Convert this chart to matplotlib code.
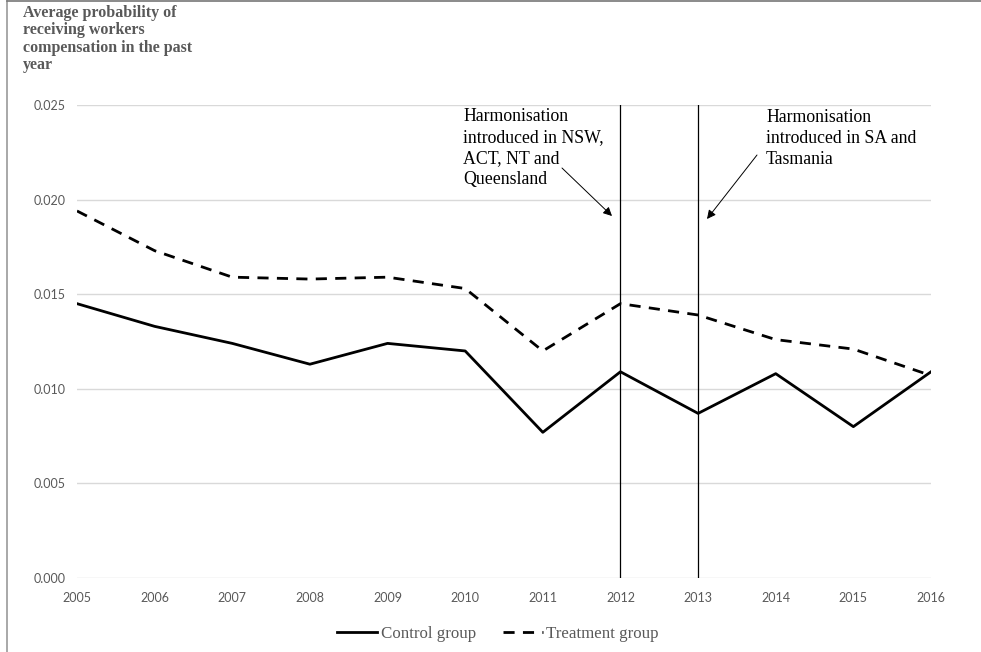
import matplotlib.pyplot as plt
from matplotlib.lines import Line2D

years = [2005, 2006, 2007, 2008, 2009, 2010, 2011, 2012, 2013, 2014, 2015, 2016]
control = [0.0145, 0.0133, 0.0124, 0.0113, 0.0124, 0.0120, 0.0077, 0.0109, 0.0087, 0.0108, 0.0080, 0.0109]
treatment = [0.0194, 0.0173, 0.0159, 0.0158, 0.0159, 0.0153, 0.0120, 0.0145, 0.0139, 0.0126, 0.0121, 0.0107]
yticks = [0.000, 0.005, 0.010, 0.015, 0.020, 0.025]
events = [2012, 2013]

W, H = 981, 652
fig = plt.figure(figsize=(W / 100, H / 100), dpi=100)
ax = fig.add_axes([77 / W, 1 - 578 / H, (931 - 77) / W, (578 - 105) / H])

grey_txt = "#595959"
ax.set_xlim(2005, 2016)
ax.set_ylim(0, 0.025)
ax.set_yticks(yticks)
ax.set_yticklabels(["%.3f" % v for v in yticks])
ax.set_xticks(years)
ax.set_xticklabels([str(y) for y in years])
ax.grid(axis="y", color="#d9d9d9", lw=1)
ax.set_axisbelow(True)
for s in ax.spines.values():
    s.set_visible(False)
ax.tick_params(length=0, labelsize=9, colors=grey_txt, pad=8)
for lab in ax.get_xticklabels() + ax.get_yticklabels():
    lab.set_family("Lato")
ax.tick_params(axis="x", pad=10)

ax.plot(years, control, color="black", lw=2, label="Control group")
ax.plot(years, treatment, color="black", lw=2, ls=(0, (4, 3)), label="Treatment group")

for e in events:
    ax.plot([e, e], [0, 0.025], color="black", lw=0.9)

serif = "Liberation Serif"
fig.text(463 / W, 1 - 108 / H, "Harmonisation\nintroduced in NSW,\nACT, NT and\nQueensland",
         ha="left", va="top", fontsize=12.8, family=serif, linespacing=1.3)
fig.text(766 / W, 1 - 109 / H, "Harmonisation\nintroduced in SA and\nTasmania",
         ha="left", va="top", fontsize=12.8, family=serif, linespacing=1.3)

arrow = dict(arrowstyle="-|>", color="black", lw=0.7, mutation_scale=13, shrinkA=0, shrinkB=0)
ax.annotate("", xy=(612, H - 216), xycoords="figure pixels",
            xytext=(562, H - 168), textcoords="figure pixels", arrowprops=arrow)
ax.annotate("", xy=(707, H - 219), xycoords="figure pixels",
            xytext=(757, H - 155), textcoords="figure pixels", arrowprops=arrow)

fig.text(23 / W, 1 - 5 / H,
         "Average probability of\nreceiving workers\ncompensation in the past\nyear",
         ha="left", va="top", fontsize=11.5, fontweight="bold", family=serif,
         color=grey_txt, linespacing=1.12)

handles = [Line2D([], [], color="black", lw=2),
           Line2D([], [], color="black", lw=2, ls=(0, (4, 3)))]
leg = fig.legend(handles, ["Control group", "Treatment group"],
                 loc="center", bbox_to_anchor=(498 / W, 1 - 634 / H),
                 ncol=2, frameon=False, handlelength=2.35, handletextpad=0.2,
                 columnspacing=1.6, prop={"family": serif, "size": 12.2})
for t in leg.get_texts():
    t.set_color(grey_txt)

# outer frame like the source screenshot
fig.add_artist(Line2D([7 / W, 7 / W], [0, 1 - 1 / H], color="#999999", lw=1.2, transform=fig.transFigure))
fig.add_artist(Line2D([7 / W, 1], [1 - 1 / H, 1 - 1 / H], color="#777777", lw=1.2, transform=fig.transFigure))

fig.savefig("out.png", dpi=100)
